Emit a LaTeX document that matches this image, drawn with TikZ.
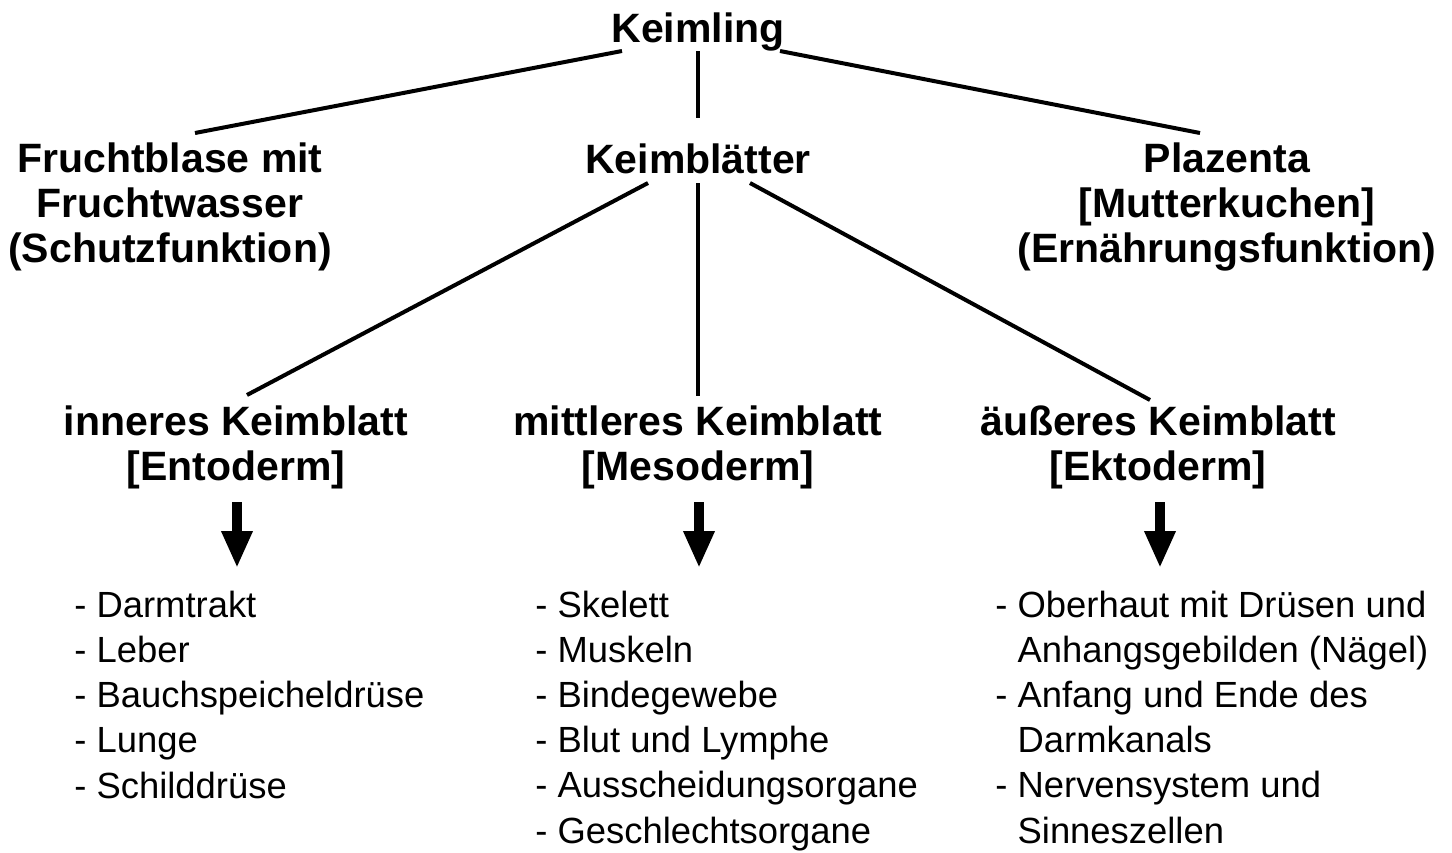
\documentclass[tikz,border=0pt]{standalone}
\usepackage{fontspec}
\setmainfont{Liberation Sans}
\usetikzlibrary{arrows.meta,calc}
\begin{document}
\begin{tikzpicture}[x=0.5pt,y=-0.5pt,
  hd/.style={font=\fontsize{20.5}{22.3}\selectfont\bfseries, align=center, inner sep=0pt, anchor=base},
  ls/.style={font=\fontsize{18.2}{22.6}\selectfont, align=left, inner sep=0pt, anchor=base west},
  conn/.style={line width=2pt},
  bigarrow/.style={line width=5pt, -{Triangle[width=14.5pt,length=18.5pt]}}]
\useasboundingbox (0,0) rectangle (1452,852);

% base anchor = baseline of the last line
\node[hd] (keim) at (698,42) {Keimling};
\node[hd] (frucht) at (170,262) {Fruchtblase mit\\Fruchtwasser\\(Schutzfunktion)};
\node[hd] (blaetter) at (698,173) {Keimblätter};
\node[hd] (plaz) at (1227,262) {Plazenta\\{}[Mutterkuchen]\\(Ernährungsfunktion)};

\node[hd] (innen) at (236,480) {inneres Keimblatt\\{}[Entoderm]};
\node[hd] (mitte) at (698,480) {mittleres Keimblatt\\{}[Mesoderm]};
\node[hd] (aussen) at (1158,480) {äußeres Keimblatt\\{}[Ektoderm]};

\node[ls] (l1) at (74,798) {- Darmtrakt\\- Leber\\- Bauchspeicheldrüse\\- Lunge\\- Schilddrüse};
\node[ls] (l2) at (535,843) {- Skelett\\- Muskeln\\- Bindegewebe\\- Blut und Lymphe\\- Ausscheidungsorgane\\- Geschlechtsorgane};
\node[ls] (l3) at (995,843) {- Oberhaut mit Drüsen und\\\phantom{- }Anhangsgebilden (Nägel)\\- Anfang und Ende des\\\phantom{- }Darmkanals\\- Nervensystem und\\\phantom{- }Sinneszellen};

\draw[conn] ($(keim.base)+(-76,9)$) -- ($(frucht.base)+(25,-129)$);
\draw[conn] ($(keim.base)+(0,9)$) -- ($(blaetter.base)+(0,-55)$);
\draw[conn] ($(keim.base)+(82,9)$) -- ($(plaz.base)+(-27,-129)$);

\draw[conn] ($(blaetter.base)+(-50,10)$) -- ($(innen.base)+(11,-85)$);
\draw[conn] ($(blaetter.base)+(0,10)$) -- ($(mitte.base)+(0,-84)$);
\draw[conn] ($(blaetter.base)+(52,10)$) -- ($(aussen.base)+(-8,-80)$);

\draw[bigarrow] ($(innen.base)+(1,22)$) -- ($(innen.base)+(1,88)$);
\draw[bigarrow] ($(mitte.base)+(1,22)$) -- ($(mitte.base)+(1,88)$);
\draw[bigarrow] ($(aussen.base)+(2,22)$) -- ($(aussen.base)+(2,88)$);
\end{tikzpicture}
\end{document}
